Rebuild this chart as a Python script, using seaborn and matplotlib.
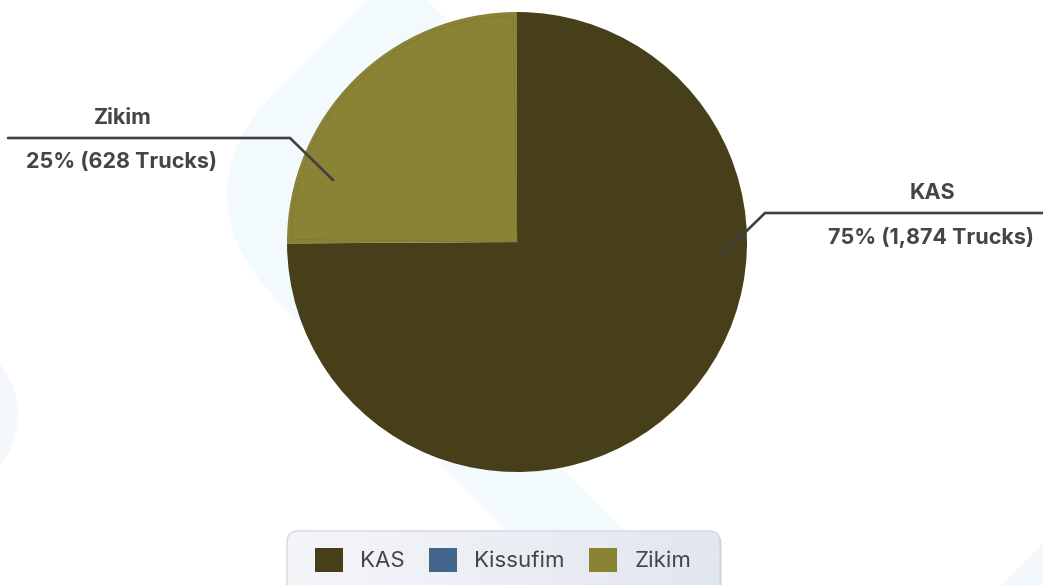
import numpy as np
import matplotlib
matplotlib.use("Agg")
import matplotlib.pyplot as plt
from matplotlib.patches import Circle, Polygon, PathPatch, FancyBboxPatch, Wedge
from matplotlib.path import Path
from matplotlib.colors import LinearSegmentedColormap
import seaborn as sns

# Truck crossings by crossing point
crossings = ["KAS", "Kissufim", "Zikim"]
trucks = [1874, 0, 628]
unit = "Trucks"
palette = ["#463F1A", "#41668A", "#8A8235"]

W, H = 1043, 585
sns.set_theme(style="white")
plt.rcParams["font.family"] = ["Inter", "DejaVu Sans"]

fig = plt.figure(figsize=(W / 100, H / 100), dpi=100)
fig.patch.set_facecolor("white")
ax = fig.add_axes([0, 0, 1, 1])

# faint decorative background shapes (pixel coordinates, y downward)
chevron = Path(
    [(485, -60), (306, 119), (230, 195), (306, 271), (800, 765)],
    [Path.MOVETO, Path.LINETO, Path.CURVE3, Path.CURVE3, Path.LINETO],
)
ax.add_patch(PathPatch(chevron, fill=False, edgecolor="#F3FAFD", lw=59,
                       capstyle="butt", joinstyle="round", zorder=0))
ax.add_patch(Circle((-62, 415), 80, facecolor="#F4F8FC", edgecolor="none", zorder=0))
ax.add_patch(Polygon([(998, 588), (1046, 540), (1046, 588)], closed=True,
                     facecolor="#F3F8FC", edgecolor="none", zorder=0))

# pie
center = (517, 242)
radius = 230
total = sum(trucks)
wedges, _ = ax.pie(trucks, colors=palette, startangle=-90, counterclock=True,
                   center=center, radius=radius,
                   wedgeprops=dict(linewidth=0))
for w in wedges:
    w.set_zorder(2)

# thin inset outline on the Zikim slice
zw = wedges[crossings.index("Zikim")]
ax.add_patch(Wedge(center, radius - 4, zw.theta1 + 1.0, zw.theta2 - 1.0,
                   fill=False, edgecolor="#807832", lw=0.5, zorder=3))

# outside labels with leader lines
label_layout = {
    "Zikim": dict(path=[(333, 180), (290, 138), (8, 138)], name_xy=(123, 118), value_xy=(122, 162)),
    "KAS": dict(path=[(723, 254), (765, 213), (1043, 213)], name_xy=(932, 193), value_xy=(931, 238)),
}
text_color = "#454545"
for name, value in zip(crossings, trucks):
    if value == 0 or name not in label_layout:
        continue
    lay = label_layout[name]
    xs, ys = zip(*lay["path"])
    ax.plot(xs, ys, color="#404040", lw=1.9, solid_capstyle="round",
            solid_joinstyle="miter", zorder=4)
    pct = value / total * 100
    ax.text(*lay["name_xy"], name, ha="center", va="center", fontsize=15.5,
            fontweight="bold", color=text_color, zorder=5)
    ax.text(*lay["value_xy"], f"{pct:.0f}% ({value:,} {unit})", ha="center",
            va="center", fontsize=15.5, fontweight="bold", color=text_color, zorder=5)

# legend panel
box = dict(boxstyle="round,pad=0,rounding_size=11")
shadow = FancyBboxPatch((288.5, 532.5), 433, 70, facecolor="#C4CAD6",
                        edgecolor="none", zorder=5, **box)
ax.add_patch(shadow)
grad = np.linspace(0, 1, 256).reshape(1, -1)
cmap = LinearSegmentedColormap.from_list("panel", ["#F5F6FA", "#E2E6EF"])
img = ax.imshow(grad, cmap=cmap, extent=(287, 720, 601, 531), aspect="auto", zorder=5.5)
fill_clip = FancyBboxPatch((287, 531), 433, 70, facecolor="none", edgecolor="none",
                           transform=ax.transData, **box)
ax.add_patch(fill_clip)
img.set_clip_path(fill_clip)
ax.add_patch(FancyBboxPatch((287, 531), 433, 70, facecolor="none",
                            edgecolor="#D3D8E3", lw=1.0, zorder=6, **box))

leg = ax.legend(wedges, crossings, ncol=3, loc="center",
                bbox_to_anchor=(503 / W, 1 - 560 / H), bbox_transform=fig.transFigure,
                frameon=False, fontsize=16, handlelength=1.26, handleheight=1.26,
                handletextpad=0.77, columnspacing=1.1, borderpad=0, borderaxespad=0)
leg.set_zorder(10)
for t in leg.get_texts():
    t.set_color(text_color)

ax.set_xlim(0, W)
ax.set_ylim(H, 0)
ax.set_aspect("equal")
ax.axis("off")

fig.savefig("out.png", dpi=100, facecolor="white")
